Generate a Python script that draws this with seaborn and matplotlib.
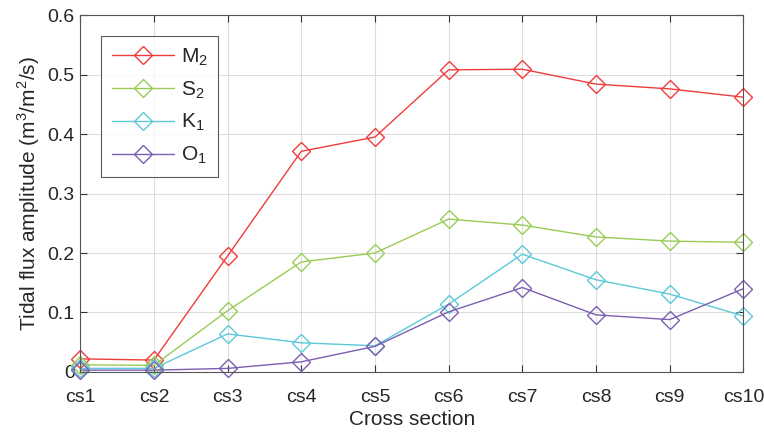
import pandas as pd
import seaborn as sns
import matplotlib.pyplot as plt

# 断面名称和各分潮通量振幅
sections = ['cs1', 'cs2', 'cs3', 'cs4', 'cs5', 'cs6', 'cs7', 'cs8', 'cs9', 'cs10']
m2 = [0.022, 0.020, 0.195, 0.371, 0.395, 0.508, 0.509, 0.484, 0.476, 0.462]
s2 = [0.012, 0.011, 0.103, 0.185, 0.200, 0.257, 0.247, 0.227, 0.220, 0.218]
k1 = [0.006, 0.006, 0.064, 0.049, 0.044, 0.114, 0.198, 0.155, 0.131, 0.094]
o1 = [0.003, 0.003, 0.006, 0.017, 0.043, 0.101, 0.142, 0.096, 0.088, 0.140]

labels = ['$\\mathregular{M_2}$', '$\\mathregular{S_2}$', '$\\mathregular{K_1}$', '$\\mathregular{O_1}$']
colors = ['#f03c3c', '#99cc55', '#5cc8d8', '#7b5fb0']

rows = []
for name, vals in zip(labels, [m2, s2, k1, o1]):
    for i, v in enumerate(vals):
        rows.append({'idx': i, 'value': v, 'constituent': name})
df = pd.DataFrame(rows)

sns.set_style('white')
plt.rcParams['font.family'] = ['Liberation Sans', 'DejaVu Sans']
plt.rcParams['mathtext.fontset'] = 'custom'
plt.rcParams['mathtext.rm'] = 'Liberation Sans'

fig = plt.figure(figsize=(7.64, 4.32), dpi=100)
ax = fig.add_axes([0.105, 0.139, 0.868, 0.826])

sns.lineplot(data=df, x='idx', y='value', hue='constituent', palette=colors,
             marker='D', markersize=9, markerfacecolor='none', markeredgewidth=1.0,
             linewidth=1.0, ax=ax, legend=True)

# 菱形空心标记的边框颜色跟随线条
for line in ax.get_lines():
    line.set_markeredgecolor(line.get_color())
    line.set_markerfacecolor('none')
    line.set_clip_on(False)

ax.set_xlim(0, len(sections) - 1)
ax.set_ylim(0, 0.6)
ax.set_xticks(range(len(sections)))
ax.set_xticklabels(sections)
ax.set_yticks([0, 0.1, 0.2, 0.3, 0.4, 0.5, 0.6])
ax.set_yticklabels(['0', '0.1', '0.2', '0.3', '0.4', '0.5', '0.6'])
ax.grid(True, color='#dddddd', linewidth=0.8)
ax.set_axisbelow(True)
ax.tick_params(direction='in', length=5, color='#333333', labelsize=14, colors='#262626',
               top=True, right=True, bottom=True, left=True)
ax.tick_params(axis='x', pad=12)
ax.tick_params(axis='y', pad=4)
for sp in ax.spines.values():
    sp.set_color('#555555')
    sp.set_linewidth(0.8)

ax.set_xlabel('Cross section', fontsize=15, color='#262626', labelpad=3)
ax.set_ylabel('Tidal flux amplitude (m$^3$/m$^2$/s)', fontsize=15, color='#262626', labelpad=4)

leg = ax.legend(loc='upper left', bbox_to_anchor=(0.032, 0.941), fontsize=15,
                frameon=True, fancybox=False, edgecolor='#333333', handlelength=3.0,
                handletextpad=0.3, labelspacing=0.55, borderpad=0.5, borderaxespad=0)
for h in leg.get_lines():
    h.set_markerfacecolor('none')
    h.set_markeredgecolor(h.get_color())
leg.get_frame().set_linewidth(0.8)

plt.savefig('out.png', dpi=100)
plt.close()
